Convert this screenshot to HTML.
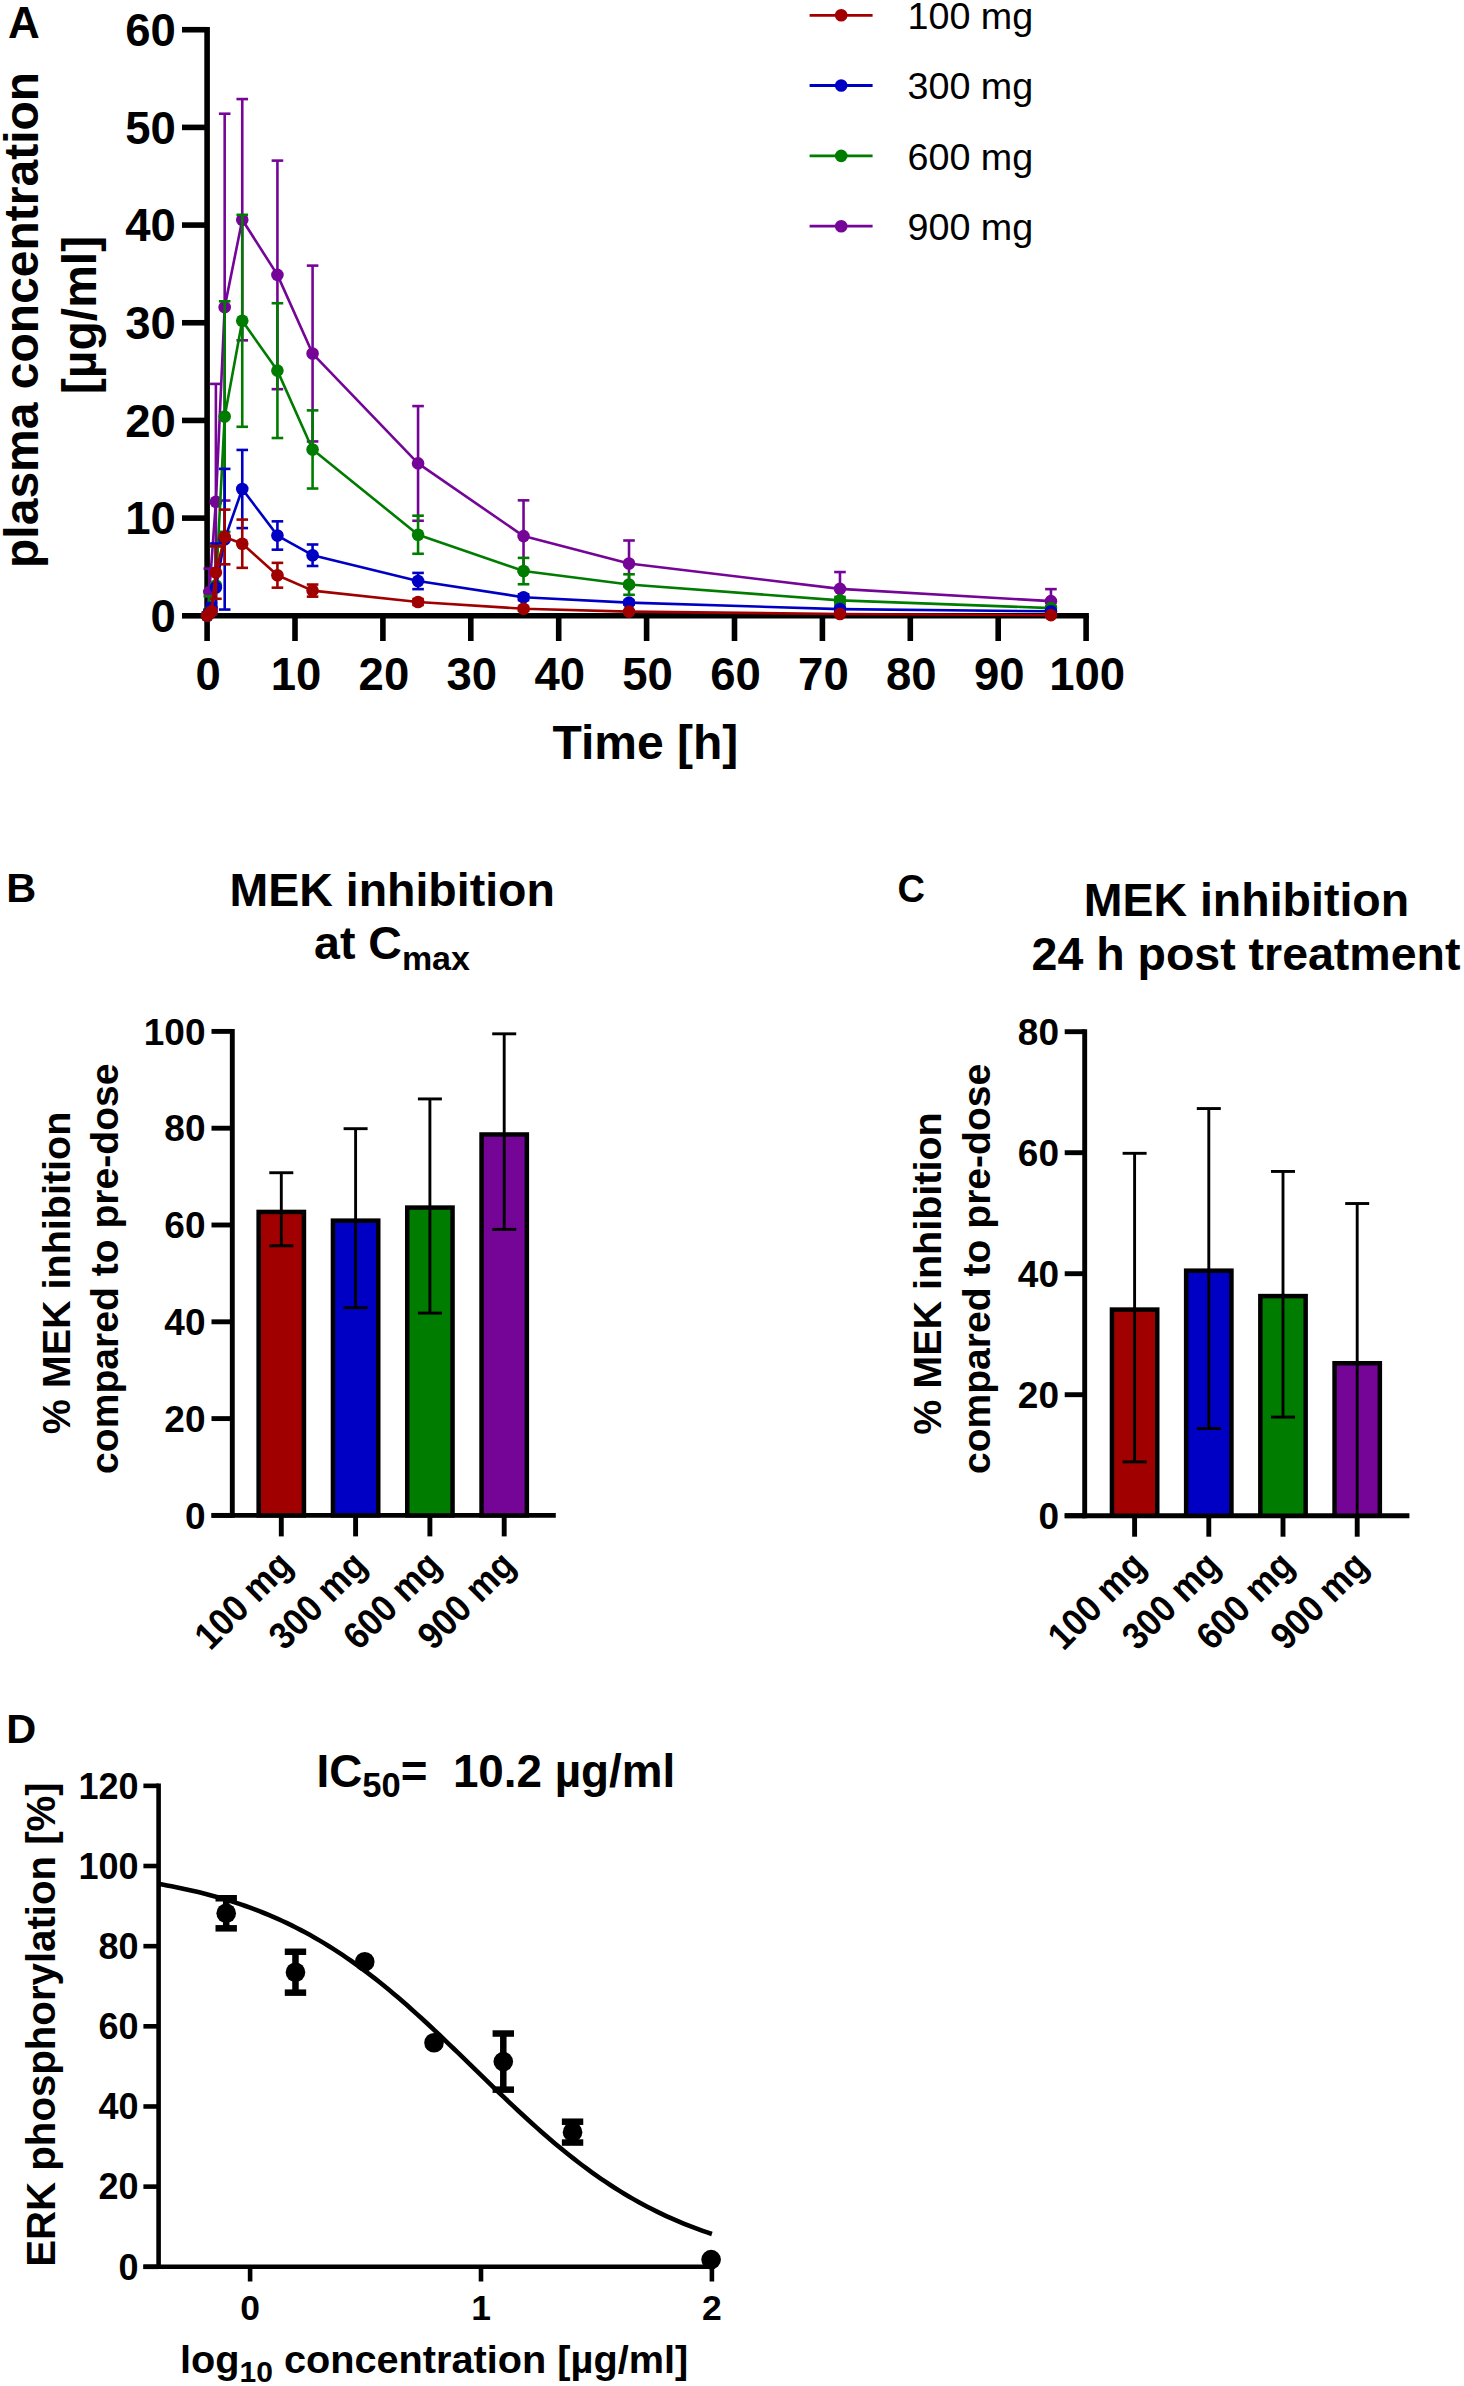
<!DOCTYPE html>
<html><head><meta charset="utf-8"><style>
html,body{margin:0;padding:0;background:#fff;}
svg{display:block;}
text{font-family:"Liberation Sans",sans-serif;fill:#000;white-space:pre;}
</style></head><body>
<svg width="1464" height="2386" viewBox="0 0 1464 2386">
<rect width="1464" height="2386" fill="#fff"/>
<path d="M207.1,26.92 V615.8 H1088.9" stroke="#000" stroke-width="5.6" fill="none" stroke-linejoin="miter"/>
<line x1="182" y1="615.8" x2="207.1" y2="615.8" stroke="#000" stroke-width="5.6" stroke-linecap="butt"/>
<line x1="182" y1="518.12" x2="207.1" y2="518.12" stroke="#000" stroke-width="5.6" stroke-linecap="butt"/>
<line x1="182" y1="420.44" x2="207.1" y2="420.44" stroke="#000" stroke-width="5.6" stroke-linecap="butt"/>
<line x1="182" y1="322.76" x2="207.1" y2="322.76" stroke="#000" stroke-width="5.6" stroke-linecap="butt"/>
<line x1="182" y1="225.08" x2="207.1" y2="225.08" stroke="#000" stroke-width="5.6" stroke-linecap="butt"/>
<line x1="182" y1="127.4" x2="207.1" y2="127.4" stroke="#000" stroke-width="5.6" stroke-linecap="butt"/>
<line x1="182" y1="29.72" x2="207.1" y2="29.72" stroke="#000" stroke-width="5.6" stroke-linecap="butt"/>
<line x1="207.1" y1="615.8" x2="207.1" y2="641" stroke="#000" stroke-width="5.6" stroke-linecap="butt"/>
<line x1="295" y1="615.8" x2="295" y2="641" stroke="#000" stroke-width="5.6" stroke-linecap="butt"/>
<line x1="382.9" y1="615.8" x2="382.9" y2="641" stroke="#000" stroke-width="5.6" stroke-linecap="butt"/>
<line x1="470.8" y1="615.8" x2="470.8" y2="641" stroke="#000" stroke-width="5.6" stroke-linecap="butt"/>
<line x1="558.7" y1="615.8" x2="558.7" y2="641" stroke="#000" stroke-width="5.6" stroke-linecap="butt"/>
<line x1="646.6" y1="615.8" x2="646.6" y2="641" stroke="#000" stroke-width="5.6" stroke-linecap="butt"/>
<line x1="734.5" y1="615.8" x2="734.5" y2="641" stroke="#000" stroke-width="5.6" stroke-linecap="butt"/>
<line x1="822.4" y1="615.8" x2="822.4" y2="641" stroke="#000" stroke-width="5.6" stroke-linecap="butt"/>
<line x1="910.3" y1="615.8" x2="910.3" y2="641" stroke="#000" stroke-width="5.6" stroke-linecap="butt"/>
<line x1="998.2" y1="615.8" x2="998.2" y2="641" stroke="#000" stroke-width="5.6" stroke-linecap="butt"/>
<line x1="1086.1" y1="615.8" x2="1086.1" y2="641" stroke="#000" stroke-width="5.6" stroke-linecap="butt"/>
<text x="175.8" y="631.91" font-size="45.5" font-weight="bold" text-anchor="end">0</text>
<text x="175.8" y="534.23" font-size="45.5" font-weight="bold" text-anchor="end">10</text>
<text x="175.8" y="436.55" font-size="45.5" font-weight="bold" text-anchor="end">20</text>
<text x="175.8" y="338.87" font-size="45.5" font-weight="bold" text-anchor="end">30</text>
<text x="175.8" y="241.19" font-size="45.5" font-weight="bold" text-anchor="end">40</text>
<text x="175.8" y="143.51" font-size="45.5" font-weight="bold" text-anchor="end">50</text>
<text x="175.8" y="45.83" font-size="45.5" font-weight="bold" text-anchor="end">60</text>
<text x="208.1" y="689.5" font-size="45.5" font-weight="bold" text-anchor="middle">0</text>
<text x="296" y="689.5" font-size="45.5" font-weight="bold" text-anchor="middle">10</text>
<text x="383.9" y="689.5" font-size="45.5" font-weight="bold" text-anchor="middle">20</text>
<text x="471.8" y="689.5" font-size="45.5" font-weight="bold" text-anchor="middle">30</text>
<text x="559.7" y="689.5" font-size="45.5" font-weight="bold" text-anchor="middle">40</text>
<text x="647.6" y="689.5" font-size="45.5" font-weight="bold" text-anchor="middle">50</text>
<text x="735.5" y="689.5" font-size="45.5" font-weight="bold" text-anchor="middle">60</text>
<text x="823.4" y="689.5" font-size="45.5" font-weight="bold" text-anchor="middle">70</text>
<text x="911.3" y="689.5" font-size="45.5" font-weight="bold" text-anchor="middle">80</text>
<text x="999.2" y="689.5" font-size="45.5" font-weight="bold" text-anchor="middle">90</text>
<text x="1087.1" y="689.5" font-size="45.5" font-weight="bold" text-anchor="middle">100</text>
<text x="645.4" y="758.7" font-size="48" font-weight="bold" text-anchor="middle">Time [h]</text>
<text transform="translate(37.7,319.9) rotate(-90)" font-size="48" font-weight="bold" text-anchor="middle">plasma concentration</text>
<text transform="translate(96,315) rotate(-90)" font-size="48" font-weight="bold" text-anchor="middle">[µg/ml]</text>
<text x="8" y="38" font-size="44" font-weight="bold" text-anchor="start">A</text>
<line x1="209.3" y1="615.51" x2="209.3" y2="568.62" stroke="#750597" stroke-width="2.6" stroke-linecap="butt"/>
<line x1="203.5" y1="568.62" x2="215.1" y2="568.62" stroke="#750597" stroke-width="2.6" stroke-linecap="butt"/>
<line x1="203.5" y1="615.51" x2="215.1" y2="615.51" stroke="#750597" stroke-width="2.6" stroke-linecap="butt"/>
<line x1="215.89" y1="615.8" x2="215.89" y2="383.91" stroke="#750597" stroke-width="2.6" stroke-linecap="butt"/>
<line x1="210.09" y1="383.91" x2="221.69" y2="383.91" stroke="#750597" stroke-width="2.6" stroke-linecap="butt"/>
<line x1="224.68" y1="500.54" x2="224.68" y2="113.72" stroke="#750597" stroke-width="2.6" stroke-linecap="butt"/>
<line x1="218.88" y1="113.72" x2="230.48" y2="113.72" stroke="#750597" stroke-width="2.6" stroke-linecap="butt"/>
<line x1="218.88" y1="500.54" x2="230.48" y2="500.54" stroke="#750597" stroke-width="2.6" stroke-linecap="butt"/>
<line x1="242.26" y1="340.34" x2="242.26" y2="99.07" stroke="#750597" stroke-width="2.6" stroke-linecap="butt"/>
<line x1="236.46" y1="99.07" x2="248.06" y2="99.07" stroke="#750597" stroke-width="2.6" stroke-linecap="butt"/>
<line x1="236.46" y1="340.34" x2="248.06" y2="340.34" stroke="#750597" stroke-width="2.6" stroke-linecap="butt"/>
<line x1="277.42" y1="389.18" x2="277.42" y2="160.61" stroke="#750597" stroke-width="2.6" stroke-linecap="butt"/>
<line x1="271.62" y1="160.61" x2="283.22" y2="160.61" stroke="#750597" stroke-width="2.6" stroke-linecap="butt"/>
<line x1="271.62" y1="389.18" x2="283.22" y2="389.18" stroke="#750597" stroke-width="2.6" stroke-linecap="butt"/>
<line x1="312.58" y1="441.44" x2="312.58" y2="265.62" stroke="#750597" stroke-width="2.6" stroke-linecap="butt"/>
<line x1="306.78" y1="265.62" x2="318.38" y2="265.62" stroke="#750597" stroke-width="2.6" stroke-linecap="butt"/>
<line x1="306.78" y1="441.44" x2="318.38" y2="441.44" stroke="#750597" stroke-width="2.6" stroke-linecap="butt"/>
<line x1="418.06" y1="520.76" x2="418.06" y2="406.08" stroke="#750597" stroke-width="2.6" stroke-linecap="butt"/>
<line x1="412.26" y1="406.08" x2="423.86" y2="406.08" stroke="#750597" stroke-width="2.6" stroke-linecap="butt"/>
<line x1="412.26" y1="520.76" x2="423.86" y2="520.76" stroke="#750597" stroke-width="2.6" stroke-linecap="butt"/>
<line x1="523.54" y1="571.84" x2="523.54" y2="500.34" stroke="#750597" stroke-width="2.6" stroke-linecap="butt"/>
<line x1="517.74" y1="500.34" x2="529.34" y2="500.34" stroke="#750597" stroke-width="2.6" stroke-linecap="butt"/>
<line x1="517.74" y1="571.84" x2="529.34" y2="571.84" stroke="#750597" stroke-width="2.6" stroke-linecap="butt"/>
<line x1="629.02" y1="586.4" x2="629.02" y2="540.49" stroke="#750597" stroke-width="2.6" stroke-linecap="butt"/>
<line x1="623.22" y1="540.49" x2="634.82" y2="540.49" stroke="#750597" stroke-width="2.6" stroke-linecap="butt"/>
<line x1="623.22" y1="586.4" x2="634.82" y2="586.4" stroke="#750597" stroke-width="2.6" stroke-linecap="butt"/>
<line x1="839.98" y1="605.64" x2="839.98" y2="572.04" stroke="#750597" stroke-width="2.6" stroke-linecap="butt"/>
<line x1="834.18" y1="572.04" x2="845.78" y2="572.04" stroke="#750597" stroke-width="2.6" stroke-linecap="butt"/>
<line x1="834.18" y1="605.64" x2="845.78" y2="605.64" stroke="#750597" stroke-width="2.6" stroke-linecap="butt"/>
<line x1="1050.94" y1="613.16" x2="1050.94" y2="589.13" stroke="#750597" stroke-width="2.6" stroke-linecap="butt"/>
<line x1="1045.14" y1="589.13" x2="1056.74" y2="589.13" stroke="#750597" stroke-width="2.6" stroke-linecap="butt"/>
<line x1="1045.14" y1="613.16" x2="1056.74" y2="613.16" stroke="#750597" stroke-width="2.6" stroke-linecap="butt"/>
<polyline points="207.1,615.8 209.3,592.06 215.89,501.71 224.68,307.13 242.26,219.71 277.42,274.9 312.58,353.53 418.06,463.42 523.54,536.09 629.02,563.44 839.98,588.84 1050.94,601.15" fill="none" stroke="#750597" stroke-width="2.6" stroke-linejoin="round"/>
<circle cx="207.1" cy="615.8" r="6.3" fill="#750597"/>
<circle cx="209.3" cy="592.06" r="6.3" fill="#750597"/>
<circle cx="215.89" cy="501.71" r="6.3" fill="#750597"/>
<circle cx="224.68" cy="307.13" r="6.3" fill="#750597"/>
<circle cx="242.26" cy="219.71" r="6.3" fill="#750597"/>
<circle cx="277.42" cy="274.9" r="6.3" fill="#750597"/>
<circle cx="312.58" cy="353.53" r="6.3" fill="#750597"/>
<circle cx="418.06" cy="463.42" r="6.3" fill="#750597"/>
<circle cx="523.54" cy="536.09" r="6.3" fill="#750597"/>
<circle cx="629.02" cy="563.44" r="6.3" fill="#750597"/>
<circle cx="839.98" cy="588.84" r="6.3" fill="#750597"/>
<circle cx="1050.94" cy="601.15" r="6.3" fill="#750597"/>
<line x1="209.3" y1="615.8" x2="209.3" y2="596.26" stroke="#007c00" stroke-width="2.6" stroke-linecap="butt"/>
<line x1="203.5" y1="596.26" x2="215.1" y2="596.26" stroke="#007c00" stroke-width="2.6" stroke-linecap="butt"/>
<line x1="215.89" y1="615.8" x2="215.89" y2="546.45" stroke="#007c00" stroke-width="2.6" stroke-linecap="butt"/>
<line x1="210.09" y1="546.45" x2="221.69" y2="546.45" stroke="#007c00" stroke-width="2.6" stroke-linecap="butt"/>
<line x1="224.68" y1="531.8" x2="224.68" y2="301.27" stroke="#007c00" stroke-width="2.6" stroke-linecap="butt"/>
<line x1="218.88" y1="301.27" x2="230.48" y2="301.27" stroke="#007c00" stroke-width="2.6" stroke-linecap="butt"/>
<line x1="218.88" y1="531.8" x2="230.48" y2="531.8" stroke="#007c00" stroke-width="2.6" stroke-linecap="butt"/>
<line x1="242.26" y1="426.79" x2="242.26" y2="214.82" stroke="#007c00" stroke-width="2.6" stroke-linecap="butt"/>
<line x1="236.46" y1="214.82" x2="248.06" y2="214.82" stroke="#007c00" stroke-width="2.6" stroke-linecap="butt"/>
<line x1="236.46" y1="426.79" x2="248.06" y2="426.79" stroke="#007c00" stroke-width="2.6" stroke-linecap="butt"/>
<line x1="277.42" y1="438.02" x2="277.42" y2="303.22" stroke="#007c00" stroke-width="2.6" stroke-linecap="butt"/>
<line x1="271.62" y1="303.22" x2="283.22" y2="303.22" stroke="#007c00" stroke-width="2.6" stroke-linecap="butt"/>
<line x1="271.62" y1="438.02" x2="283.22" y2="438.02" stroke="#007c00" stroke-width="2.6" stroke-linecap="butt"/>
<line x1="312.58" y1="488.52" x2="312.58" y2="410.38" stroke="#007c00" stroke-width="2.6" stroke-linecap="butt"/>
<line x1="306.78" y1="410.38" x2="318.38" y2="410.38" stroke="#007c00" stroke-width="2.6" stroke-linecap="butt"/>
<line x1="306.78" y1="488.52" x2="318.38" y2="488.52" stroke="#007c00" stroke-width="2.6" stroke-linecap="butt"/>
<line x1="418.06" y1="553.77" x2="418.06" y2="515.68" stroke="#007c00" stroke-width="2.6" stroke-linecap="butt"/>
<line x1="412.26" y1="515.68" x2="423.86" y2="515.68" stroke="#007c00" stroke-width="2.6" stroke-linecap="butt"/>
<line x1="412.26" y1="553.77" x2="423.86" y2="553.77" stroke="#007c00" stroke-width="2.6" stroke-linecap="butt"/>
<line x1="523.54" y1="584.25" x2="523.54" y2="557.88" stroke="#007c00" stroke-width="2.6" stroke-linecap="butt"/>
<line x1="517.74" y1="557.88" x2="529.34" y2="557.88" stroke="#007c00" stroke-width="2.6" stroke-linecap="butt"/>
<line x1="517.74" y1="584.25" x2="529.34" y2="584.25" stroke="#007c00" stroke-width="2.6" stroke-linecap="butt"/>
<line x1="629.02" y1="594.8" x2="629.02" y2="574.29" stroke="#007c00" stroke-width="2.6" stroke-linecap="butt"/>
<line x1="623.22" y1="574.29" x2="634.82" y2="574.29" stroke="#007c00" stroke-width="2.6" stroke-linecap="butt"/>
<line x1="623.22" y1="594.8" x2="634.82" y2="594.8" stroke="#007c00" stroke-width="2.6" stroke-linecap="butt"/>
<line x1="839.98" y1="603.79" x2="839.98" y2="596.95" stroke="#007c00" stroke-width="2.6" stroke-linecap="butt"/>
<line x1="834.18" y1="596.95" x2="845.78" y2="596.95" stroke="#007c00" stroke-width="2.6" stroke-linecap="butt"/>
<line x1="834.18" y1="603.79" x2="845.78" y2="603.79" stroke="#007c00" stroke-width="2.6" stroke-linecap="butt"/>
<line x1="1050.94" y1="610.04" x2="1050.94" y2="606.13" stroke="#007c00" stroke-width="2.6" stroke-linecap="butt"/>
<line x1="1045.14" y1="606.13" x2="1056.74" y2="606.13" stroke="#007c00" stroke-width="2.6" stroke-linecap="butt"/>
<line x1="1045.14" y1="610.04" x2="1056.74" y2="610.04" stroke="#007c00" stroke-width="2.6" stroke-linecap="butt"/>
<polyline points="207.1,615.8 209.3,610.92 215.89,585.52 224.68,416.53 242.26,320.81 277.42,370.62 312.58,449.45 418.06,534.73 523.54,571.06 629.02,584.54 839.98,600.37 1050.94,608.08" fill="none" stroke="#007c00" stroke-width="2.6" stroke-linejoin="round"/>
<circle cx="207.1" cy="615.8" r="6.3" fill="#007c00"/>
<circle cx="209.3" cy="610.92" r="6.3" fill="#007c00"/>
<circle cx="215.89" cy="585.52" r="6.3" fill="#007c00"/>
<circle cx="224.68" cy="416.53" r="6.3" fill="#007c00"/>
<circle cx="242.26" cy="320.81" r="6.3" fill="#007c00"/>
<circle cx="277.42" cy="370.62" r="6.3" fill="#007c00"/>
<circle cx="312.58" cy="449.45" r="6.3" fill="#007c00"/>
<circle cx="418.06" cy="534.73" r="6.3" fill="#007c00"/>
<circle cx="523.54" cy="571.06" r="6.3" fill="#007c00"/>
<circle cx="629.02" cy="584.54" r="6.3" fill="#007c00"/>
<circle cx="839.98" cy="600.37" r="6.3" fill="#007c00"/>
<circle cx="1050.94" cy="608.08" r="6.3" fill="#007c00"/>
<line x1="209.3" y1="615.8" x2="209.3" y2="609.94" stroke="#0000c4" stroke-width="2.6" stroke-linecap="butt"/>
<line x1="203.5" y1="609.94" x2="215.1" y2="609.94" stroke="#0000c4" stroke-width="2.6" stroke-linecap="butt"/>
<line x1="211.5" y1="612.87" x2="211.5" y2="603.1" stroke="#0000c4" stroke-width="2.6" stroke-linecap="butt"/>
<line x1="205.69" y1="603.1" x2="217.3" y2="603.1" stroke="#0000c4" stroke-width="2.6" stroke-linecap="butt"/>
<line x1="205.69" y1="612.87" x2="217.3" y2="612.87" stroke="#0000c4" stroke-width="2.6" stroke-linecap="butt"/>
<line x1="215.89" y1="615.8" x2="215.89" y2="543.52" stroke="#0000c4" stroke-width="2.6" stroke-linecap="butt"/>
<line x1="210.09" y1="543.52" x2="221.69" y2="543.52" stroke="#0000c4" stroke-width="2.6" stroke-linecap="butt"/>
<line x1="224.68" y1="609.55" x2="224.68" y2="468.89" stroke="#0000c4" stroke-width="2.6" stroke-linecap="butt"/>
<line x1="218.88" y1="468.89" x2="230.48" y2="468.89" stroke="#0000c4" stroke-width="2.6" stroke-linecap="butt"/>
<line x1="218.88" y1="609.55" x2="230.48" y2="609.55" stroke="#0000c4" stroke-width="2.6" stroke-linecap="butt"/>
<line x1="242.26" y1="528.08" x2="242.26" y2="449.94" stroke="#0000c4" stroke-width="2.6" stroke-linecap="butt"/>
<line x1="236.46" y1="449.94" x2="248.06" y2="449.94" stroke="#0000c4" stroke-width="2.6" stroke-linecap="butt"/>
<line x1="236.46" y1="528.08" x2="248.06" y2="528.08" stroke="#0000c4" stroke-width="2.6" stroke-linecap="butt"/>
<line x1="277.42" y1="549.67" x2="277.42" y2="521.34" stroke="#0000c4" stroke-width="2.6" stroke-linecap="butt"/>
<line x1="271.62" y1="521.34" x2="283.22" y2="521.34" stroke="#0000c4" stroke-width="2.6" stroke-linecap="butt"/>
<line x1="271.62" y1="549.67" x2="283.22" y2="549.67" stroke="#0000c4" stroke-width="2.6" stroke-linecap="butt"/>
<line x1="312.58" y1="565.98" x2="312.58" y2="544.49" stroke="#0000c4" stroke-width="2.6" stroke-linecap="butt"/>
<line x1="306.78" y1="544.49" x2="318.38" y2="544.49" stroke="#0000c4" stroke-width="2.6" stroke-linecap="butt"/>
<line x1="306.78" y1="565.98" x2="318.38" y2="565.98" stroke="#0000c4" stroke-width="2.6" stroke-linecap="butt"/>
<line x1="418.06" y1="589.13" x2="418.06" y2="572.92" stroke="#0000c4" stroke-width="2.6" stroke-linecap="butt"/>
<line x1="412.26" y1="572.92" x2="423.86" y2="572.92" stroke="#0000c4" stroke-width="2.6" stroke-linecap="butt"/>
<line x1="412.26" y1="589.13" x2="423.86" y2="589.13" stroke="#0000c4" stroke-width="2.6" stroke-linecap="butt"/>
<line x1="523.54" y1="600.17" x2="523.54" y2="594.31" stroke="#0000c4" stroke-width="2.6" stroke-linecap="butt"/>
<line x1="517.74" y1="594.31" x2="529.34" y2="594.31" stroke="#0000c4" stroke-width="2.6" stroke-linecap="butt"/>
<line x1="517.74" y1="600.17" x2="529.34" y2="600.17" stroke="#0000c4" stroke-width="2.6" stroke-linecap="butt"/>
<line x1="629.02" y1="604.57" x2="629.02" y2="600.66" stroke="#0000c4" stroke-width="2.6" stroke-linecap="butt"/>
<line x1="623.22" y1="600.66" x2="634.82" y2="600.66" stroke="#0000c4" stroke-width="2.6" stroke-linecap="butt"/>
<line x1="623.22" y1="604.57" x2="634.82" y2="604.57" stroke="#0000c4" stroke-width="2.6" stroke-linecap="butt"/>
<line x1="839.98" y1="610.62" x2="839.98" y2="607.69" stroke="#0000c4" stroke-width="2.6" stroke-linecap="butt"/>
<line x1="834.18" y1="607.69" x2="845.78" y2="607.69" stroke="#0000c4" stroke-width="2.6" stroke-linecap="butt"/>
<line x1="834.18" y1="610.62" x2="845.78" y2="610.62" stroke="#0000c4" stroke-width="2.6" stroke-linecap="butt"/>
<line x1="1050.94" y1="612.28" x2="1050.94" y2="610.33" stroke="#0000c4" stroke-width="2.6" stroke-linecap="butt"/>
<line x1="1045.14" y1="610.33" x2="1056.74" y2="610.33" stroke="#0000c4" stroke-width="2.6" stroke-linecap="butt"/>
<line x1="1045.14" y1="612.28" x2="1056.74" y2="612.28" stroke="#0000c4" stroke-width="2.6" stroke-linecap="butt"/>
<polyline points="207.1,615.8 209.3,612.87 211.5,607.99 215.89,587.47 224.68,539.22 242.26,489.01 277.42,535.51 312.58,555.24 418.06,581.03 523.54,597.24 629.02,602.61 839.98,609.16 1050.94,611.31" fill="none" stroke="#0000c4" stroke-width="2.6" stroke-linejoin="round"/>
<circle cx="207.1" cy="615.8" r="6.3" fill="#0000c4"/>
<circle cx="209.3" cy="612.87" r="6.3" fill="#0000c4"/>
<circle cx="211.5" cy="607.99" r="6.3" fill="#0000c4"/>
<circle cx="215.89" cy="587.47" r="6.3" fill="#0000c4"/>
<circle cx="224.68" cy="539.22" r="6.3" fill="#0000c4"/>
<circle cx="242.26" cy="489.01" r="6.3" fill="#0000c4"/>
<circle cx="277.42" cy="535.51" r="6.3" fill="#0000c4"/>
<circle cx="312.58" cy="555.24" r="6.3" fill="#0000c4"/>
<circle cx="418.06" cy="581.03" r="6.3" fill="#0000c4"/>
<circle cx="523.54" cy="597.24" r="6.3" fill="#0000c4"/>
<circle cx="629.02" cy="602.61" r="6.3" fill="#0000c4"/>
<circle cx="839.98" cy="609.16" r="6.3" fill="#0000c4"/>
<circle cx="1050.94" cy="611.31" r="6.3" fill="#0000c4"/>
<line x1="215.89" y1="598.8" x2="215.89" y2="546.06" stroke="#a00000" stroke-width="2.6" stroke-linecap="butt"/>
<line x1="210.09" y1="546.06" x2="221.69" y2="546.06" stroke="#a00000" stroke-width="2.6" stroke-linecap="butt"/>
<line x1="210.09" y1="598.8" x2="221.69" y2="598.8" stroke="#a00000" stroke-width="2.6" stroke-linecap="butt"/>
<line x1="224.68" y1="564.32" x2="224.68" y2="509.62" stroke="#a00000" stroke-width="2.6" stroke-linecap="butt"/>
<line x1="218.88" y1="509.62" x2="230.48" y2="509.62" stroke="#a00000" stroke-width="2.6" stroke-linecap="butt"/>
<line x1="218.88" y1="564.32" x2="230.48" y2="564.32" stroke="#a00000" stroke-width="2.6" stroke-linecap="butt"/>
<line x1="242.26" y1="567.84" x2="242.26" y2="519.59" stroke="#a00000" stroke-width="2.6" stroke-linecap="butt"/>
<line x1="236.46" y1="519.59" x2="248.06" y2="519.59" stroke="#a00000" stroke-width="2.6" stroke-linecap="butt"/>
<line x1="236.46" y1="567.84" x2="248.06" y2="567.84" stroke="#a00000" stroke-width="2.6" stroke-linecap="butt"/>
<line x1="277.42" y1="587.67" x2="277.42" y2="562.86" stroke="#a00000" stroke-width="2.6" stroke-linecap="butt"/>
<line x1="271.62" y1="562.86" x2="283.22" y2="562.86" stroke="#a00000" stroke-width="2.6" stroke-linecap="butt"/>
<line x1="271.62" y1="587.67" x2="283.22" y2="587.67" stroke="#a00000" stroke-width="2.6" stroke-linecap="butt"/>
<line x1="312.58" y1="596.65" x2="312.58" y2="584.54" stroke="#a00000" stroke-width="2.6" stroke-linecap="butt"/>
<line x1="306.78" y1="584.54" x2="318.38" y2="584.54" stroke="#a00000" stroke-width="2.6" stroke-linecap="butt"/>
<line x1="306.78" y1="596.65" x2="318.38" y2="596.65" stroke="#a00000" stroke-width="2.6" stroke-linecap="butt"/>
<line x1="418.06" y1="604.96" x2="418.06" y2="599.1" stroke="#a00000" stroke-width="2.6" stroke-linecap="butt"/>
<line x1="412.26" y1="599.1" x2="423.86" y2="599.1" stroke="#a00000" stroke-width="2.6" stroke-linecap="butt"/>
<line x1="412.26" y1="604.96" x2="423.86" y2="604.96" stroke="#a00000" stroke-width="2.6" stroke-linecap="butt"/>
<line x1="523.54" y1="610.72" x2="523.54" y2="606.81" stroke="#a00000" stroke-width="2.6" stroke-linecap="butt"/>
<line x1="517.74" y1="606.81" x2="529.34" y2="606.81" stroke="#a00000" stroke-width="2.6" stroke-linecap="butt"/>
<line x1="517.74" y1="610.72" x2="529.34" y2="610.72" stroke="#a00000" stroke-width="2.6" stroke-linecap="butt"/>
<line x1="629.02" y1="612.58" x2="629.02" y2="610.62" stroke="#a00000" stroke-width="2.6" stroke-linecap="butt"/>
<line x1="623.22" y1="610.62" x2="634.82" y2="610.62" stroke="#a00000" stroke-width="2.6" stroke-linecap="butt"/>
<line x1="623.22" y1="612.58" x2="634.82" y2="612.58" stroke="#a00000" stroke-width="2.6" stroke-linecap="butt"/>
<line x1="839.98" y1="614.53" x2="839.98" y2="613.55" stroke="#a00000" stroke-width="2.6" stroke-linecap="butt"/>
<line x1="834.18" y1="613.55" x2="845.78" y2="613.55" stroke="#a00000" stroke-width="2.6" stroke-linecap="butt"/>
<line x1="834.18" y1="614.53" x2="845.78" y2="614.53" stroke="#a00000" stroke-width="2.6" stroke-linecap="butt"/>
<line x1="1050.94" y1="615.41" x2="1050.94" y2="614.82" stroke="#a00000" stroke-width="2.6" stroke-linecap="butt"/>
<line x1="1045.14" y1="614.82" x2="1056.74" y2="614.82" stroke="#a00000" stroke-width="2.6" stroke-linecap="butt"/>
<line x1="1045.14" y1="615.41" x2="1056.74" y2="615.41" stroke="#a00000" stroke-width="2.6" stroke-linecap="butt"/>
<polyline points="207.1,615.8 209.3,613.85 211.5,611.21 215.89,572.43 224.68,536.97 242.26,543.71 277.42,575.26 312.58,590.6 418.06,602.03 523.54,608.77 629.02,611.6 839.98,614.04 1050.94,615.12" fill="none" stroke="#a00000" stroke-width="2.6" stroke-linejoin="round"/>
<circle cx="207.1" cy="615.8" r="6.3" fill="#a00000"/>
<circle cx="209.3" cy="613.85" r="6.3" fill="#a00000"/>
<circle cx="211.5" cy="611.21" r="6.3" fill="#a00000"/>
<circle cx="215.89" cy="572.43" r="6.3" fill="#a00000"/>
<circle cx="224.68" cy="536.97" r="6.3" fill="#a00000"/>
<circle cx="242.26" cy="543.71" r="6.3" fill="#a00000"/>
<circle cx="277.42" cy="575.26" r="6.3" fill="#a00000"/>
<circle cx="312.58" cy="590.6" r="6.3" fill="#a00000"/>
<circle cx="418.06" cy="602.03" r="6.3" fill="#a00000"/>
<circle cx="523.54" cy="608.77" r="6.3" fill="#a00000"/>
<circle cx="629.02" cy="611.6" r="6.3" fill="#a00000"/>
<circle cx="839.98" cy="614.04" r="6.3" fill="#a00000"/>
<circle cx="1050.94" cy="615.12" r="6.3" fill="#a00000"/>
<line x1="809.6" y1="15.3" x2="872.6" y2="15.3" stroke="#a00000" stroke-width="2.8" stroke-linecap="butt"/>
<circle cx="841.2" cy="15.3" r="6.3" fill="#a00000"/>
<text x="907.5" y="29.2" font-size="37.7" font-weight="normal" text-anchor="start">100 mg</text>
<line x1="809.6" y1="85.5" x2="872.6" y2="85.5" stroke="#0000c4" stroke-width="2.8" stroke-linecap="butt"/>
<circle cx="841.2" cy="85.5" r="6.3" fill="#0000c4"/>
<text x="907.5" y="99.4" font-size="37.7" font-weight="normal" text-anchor="start">300 mg</text>
<line x1="809.6" y1="155.9" x2="872.6" y2="155.9" stroke="#007c00" stroke-width="2.8" stroke-linecap="butt"/>
<circle cx="841.2" cy="155.9" r="6.3" fill="#007c00"/>
<text x="907.5" y="169.8" font-size="37.7" font-weight="normal" text-anchor="start">600 mg</text>
<line x1="809.6" y1="226.2" x2="872.6" y2="226.2" stroke="#750597" stroke-width="2.8" stroke-linecap="butt"/>
<circle cx="841.2" cy="226.2" r="6.3" fill="#750597"/>
<text x="907.5" y="240.1" font-size="37.7" font-weight="normal" text-anchor="start">900 mg</text>
<path d="M232.3,1028.95 V1517.85" stroke="#000" stroke-width="4.9" fill="none"/>
<line x1="211.5" y1="1515.4" x2="555.8" y2="1515.4" stroke="#000" stroke-width="4.9" stroke-linecap="butt"/>
<line x1="211.5" y1="1515.4" x2="232.3" y2="1515.4" stroke="#000" stroke-width="4.9" stroke-linecap="butt"/>
<text x="205.5" y="1528.5" font-size="37" font-weight="bold" text-anchor="end">0</text>
<line x1="211.5" y1="1418.6" x2="232.3" y2="1418.6" stroke="#000" stroke-width="4.9" stroke-linecap="butt"/>
<text x="205.5" y="1431.7" font-size="37" font-weight="bold" text-anchor="end">20</text>
<line x1="211.5" y1="1321.8" x2="232.3" y2="1321.8" stroke="#000" stroke-width="4.9" stroke-linecap="butt"/>
<text x="205.5" y="1334.9" font-size="37" font-weight="bold" text-anchor="end">40</text>
<line x1="211.5" y1="1225" x2="232.3" y2="1225" stroke="#000" stroke-width="4.9" stroke-linecap="butt"/>
<text x="205.5" y="1238.1" font-size="37" font-weight="bold" text-anchor="end">60</text>
<line x1="211.5" y1="1128.2" x2="232.3" y2="1128.2" stroke="#000" stroke-width="4.9" stroke-linecap="butt"/>
<text x="205.5" y="1141.3" font-size="37" font-weight="bold" text-anchor="end">80</text>
<line x1="211.5" y1="1031.4" x2="232.3" y2="1031.4" stroke="#000" stroke-width="4.9" stroke-linecap="butt"/>
<text x="205.5" y="1044.5" font-size="37" font-weight="bold" text-anchor="end">100</text>
<line x1="281.3" y1="1515.4" x2="281.3" y2="1536.4" stroke="#000" stroke-width="4.9" stroke-linecap="butt"/>
<line x1="355.6" y1="1515.4" x2="355.6" y2="1536.4" stroke="#000" stroke-width="4.9" stroke-linecap="butt"/>
<line x1="429.9" y1="1515.4" x2="429.9" y2="1536.4" stroke="#000" stroke-width="4.9" stroke-linecap="butt"/>
<line x1="504.2" y1="1515.4" x2="504.2" y2="1536.4" stroke="#000" stroke-width="4.9" stroke-linecap="butt"/>
<rect x="258.65" y="1211.93" width="45.3" height="303.47" fill="#a00000" stroke="#000" stroke-width="4.5"/>
<line x1="281.3" y1="1172.73" x2="281.3" y2="1245.81" stroke="#000" stroke-width="2.9" stroke-linecap="butt"/>
<line x1="269.3" y1="1172.73" x2="293.3" y2="1172.73" stroke="#000" stroke-width="2.9" stroke-linecap="butt"/>
<line x1="269.3" y1="1245.81" x2="293.3" y2="1245.81" stroke="#000" stroke-width="2.9" stroke-linecap="butt"/>
<rect x="332.95" y="1220.64" width="45.3" height="294.76" fill="#0000c4" stroke="#000" stroke-width="4.5"/>
<line x1="355.6" y1="1128.68" x2="355.6" y2="1307.76" stroke="#000" stroke-width="2.9" stroke-linecap="butt"/>
<line x1="343.6" y1="1128.68" x2="367.6" y2="1128.68" stroke="#000" stroke-width="2.9" stroke-linecap="butt"/>
<line x1="343.6" y1="1307.76" x2="367.6" y2="1307.76" stroke="#000" stroke-width="2.9" stroke-linecap="butt"/>
<rect x="407.25" y="1207.58" width="45.3" height="307.82" fill="#007c00" stroke="#000" stroke-width="4.5"/>
<line x1="429.9" y1="1098.92" x2="429.9" y2="1313.09" stroke="#000" stroke-width="2.9" stroke-linecap="butt"/>
<line x1="417.9" y1="1098.92" x2="441.9" y2="1098.92" stroke="#000" stroke-width="2.9" stroke-linecap="butt"/>
<line x1="417.9" y1="1313.09" x2="441.9" y2="1313.09" stroke="#000" stroke-width="2.9" stroke-linecap="butt"/>
<rect x="481.55" y="1134.49" width="45.3" height="380.91" fill="#750597" stroke="#000" stroke-width="4.5"/>
<line x1="504.2" y1="1033.82" x2="504.2" y2="1229.36" stroke="#000" stroke-width="2.9" stroke-linecap="butt"/>
<line x1="492.2" y1="1033.82" x2="516.2" y2="1033.82" stroke="#000" stroke-width="2.9" stroke-linecap="butt"/>
<line x1="492.2" y1="1229.36" x2="516.2" y2="1229.36" stroke="#000" stroke-width="2.9" stroke-linecap="butt"/>
<text transform="translate(294.3,1567.4) rotate(-45) scale(1,1.1)" font-size="34.5" font-weight="bold" text-anchor="end">100 mg</text>
<text transform="translate(368.6,1567.4) rotate(-45) scale(1,1.1)" font-size="34.5" font-weight="bold" text-anchor="end">300 mg</text>
<text transform="translate(442.9,1567.4) rotate(-45) scale(1,1.1)" font-size="34.5" font-weight="bold" text-anchor="end">600 mg</text>
<text transform="translate(517.2,1567.4) rotate(-45) scale(1,1.1)" font-size="34.5" font-weight="bold" text-anchor="end">900 mg</text>
<path d="M1084.7,1029.25 V1518.15" stroke="#000" stroke-width="4.9" fill="none"/>
<line x1="1064.7" y1="1515.7" x2="1409.4" y2="1515.7" stroke="#000" stroke-width="4.9" stroke-linecap="butt"/>
<line x1="1064.7" y1="1515.7" x2="1084.7" y2="1515.7" stroke="#000" stroke-width="4.9" stroke-linecap="butt"/>
<text x="1059" y="1528.8" font-size="37" font-weight="bold" text-anchor="end">0</text>
<line x1="1064.7" y1="1394.7" x2="1084.7" y2="1394.7" stroke="#000" stroke-width="4.9" stroke-linecap="butt"/>
<text x="1059" y="1407.8" font-size="37" font-weight="bold" text-anchor="end">20</text>
<line x1="1064.7" y1="1273.7" x2="1084.7" y2="1273.7" stroke="#000" stroke-width="4.9" stroke-linecap="butt"/>
<text x="1059" y="1286.8" font-size="37" font-weight="bold" text-anchor="end">40</text>
<line x1="1064.7" y1="1152.7" x2="1084.7" y2="1152.7" stroke="#000" stroke-width="4.9" stroke-linecap="butt"/>
<text x="1059" y="1165.8" font-size="37" font-weight="bold" text-anchor="end">60</text>
<line x1="1064.7" y1="1031.7" x2="1084.7" y2="1031.7" stroke="#000" stroke-width="4.9" stroke-linecap="butt"/>
<text x="1059" y="1044.8" font-size="37" font-weight="bold" text-anchor="end">80</text>
<line x1="1134.6" y1="1515.7" x2="1134.6" y2="1536.7" stroke="#000" stroke-width="4.9" stroke-linecap="butt"/>
<line x1="1208.8" y1="1515.7" x2="1208.8" y2="1536.7" stroke="#000" stroke-width="4.9" stroke-linecap="butt"/>
<line x1="1283" y1="1515.7" x2="1283" y2="1536.7" stroke="#000" stroke-width="4.9" stroke-linecap="butt"/>
<line x1="1357.2" y1="1515.7" x2="1357.2" y2="1536.7" stroke="#000" stroke-width="4.9" stroke-linecap="butt"/>
<rect x="1111.95" y="1309.58" width="45.3" height="206.12" fill="#a00000" stroke="#000" stroke-width="4.5"/>
<line x1="1134.6" y1="1153.31" x2="1134.6" y2="1461.86" stroke="#000" stroke-width="2.9" stroke-linecap="butt"/>
<line x1="1122.6" y1="1153.31" x2="1146.6" y2="1153.31" stroke="#000" stroke-width="2.9" stroke-linecap="butt"/>
<line x1="1122.6" y1="1461.86" x2="1146.6" y2="1461.86" stroke="#000" stroke-width="2.9" stroke-linecap="butt"/>
<rect x="1186.15" y="1270.67" width="45.3" height="245.03" fill="#0000c4" stroke="#000" stroke-width="4.5"/>
<line x1="1208.8" y1="1108.54" x2="1208.8" y2="1428.58" stroke="#000" stroke-width="2.9" stroke-linecap="butt"/>
<line x1="1196.8" y1="1108.54" x2="1220.8" y2="1108.54" stroke="#000" stroke-width="2.9" stroke-linecap="butt"/>
<line x1="1196.8" y1="1428.58" x2="1220.8" y2="1428.58" stroke="#000" stroke-width="2.9" stroke-linecap="butt"/>
<rect x="1260.35" y="1296.09" width="45.3" height="219.62" fill="#007c00" stroke="#000" stroke-width="4.5"/>
<line x1="1283" y1="1171.45" x2="1283" y2="1417.09" stroke="#000" stroke-width="2.9" stroke-linecap="butt"/>
<line x1="1271" y1="1171.45" x2="1295" y2="1171.45" stroke="#000" stroke-width="2.9" stroke-linecap="butt"/>
<line x1="1271" y1="1417.09" x2="1295" y2="1417.09" stroke="#000" stroke-width="2.9" stroke-linecap="butt"/>
<rect x="1334.55" y="1363.24" width="45.3" height="152.46" fill="#750597" stroke="#000" stroke-width="4.5"/>
<line x1="1357.2" y1="1203.52" x2="1357.2" y2="1515.7" stroke="#000" stroke-width="2.9" stroke-linecap="butt"/>
<line x1="1345.2" y1="1203.52" x2="1369.2" y2="1203.52" stroke="#000" stroke-width="2.9" stroke-linecap="butt"/>
<text transform="translate(1147.6,1567.7) rotate(-45) scale(1,1.1)" font-size="34.5" font-weight="bold" text-anchor="end">100 mg</text>
<text transform="translate(1221.8,1567.7) rotate(-45) scale(1,1.1)" font-size="34.5" font-weight="bold" text-anchor="end">300 mg</text>
<text transform="translate(1296,1567.7) rotate(-45) scale(1,1.1)" font-size="34.5" font-weight="bold" text-anchor="end">600 mg</text>
<text transform="translate(1370.2,1567.7) rotate(-45) scale(1,1.1)" font-size="34.5" font-weight="bold" text-anchor="end">900 mg</text>
<text x="392.2" y="906" font-size="46.5" font-weight="bold" text-anchor="middle">MEK inhibition</text>
<text x="392" y="958.9" font-size="46.5" font-weight="bold" text-anchor="middle">at C<tspan font-size="34" dy="10.7">max</tspan></text>
<text x="6.3" y="901.6" font-size="41.5" font-weight="bold" text-anchor="start">B</text>
<text transform="translate(70,1273) rotate(-90)" font-size="39.5" font-weight="bold" text-anchor="middle">% MEK inhibition</text>
<text transform="translate(118,1268.7) rotate(-90)" font-size="39.1" font-weight="bold" text-anchor="middle">compared to pre-dose</text>
<text x="1246.4" y="915.8" font-size="46.5" font-weight="bold" text-anchor="middle">MEK inhibition</text>
<text x="1246" y="969.7" font-size="46.5" font-weight="bold" text-anchor="middle">24 h post treatment</text>
<text x="897.5" y="901.9" font-size="38" font-weight="bold" text-anchor="start">C</text>
<text transform="translate(941.3,1273.6) rotate(-90)" font-size="39.5" font-weight="bold" text-anchor="middle">% MEK inhibition</text>
<text transform="translate(990.4,1268.9) rotate(-90)" font-size="39.1" font-weight="bold" text-anchor="middle">compared to pre-dose</text>
<path d="M158.6,1783.54 V2269.1" stroke="#000" stroke-width="4.6" fill="none"/>
<line x1="143.4" y1="2266.8" x2="714.2" y2="2266.8" stroke="#000" stroke-width="4.6" stroke-linecap="butt"/>
<line x1="143.4" y1="2266.8" x2="158.6" y2="2266.8" stroke="#000" stroke-width="4.6" stroke-linecap="butt"/>
<text x="138.5" y="2279.54" font-size="36" font-weight="bold" text-anchor="end">0</text>
<line x1="143.4" y1="2186.64" x2="158.6" y2="2186.64" stroke="#000" stroke-width="4.6" stroke-linecap="butt"/>
<text x="138.5" y="2199.38" font-size="36" font-weight="bold" text-anchor="end">20</text>
<line x1="143.4" y1="2106.48" x2="158.6" y2="2106.48" stroke="#000" stroke-width="4.6" stroke-linecap="butt"/>
<text x="138.5" y="2119.22" font-size="36" font-weight="bold" text-anchor="end">40</text>
<line x1="143.4" y1="2026.32" x2="158.6" y2="2026.32" stroke="#000" stroke-width="4.6" stroke-linecap="butt"/>
<text x="138.5" y="2039.06" font-size="36" font-weight="bold" text-anchor="end">60</text>
<line x1="143.4" y1="1946.16" x2="158.6" y2="1946.16" stroke="#000" stroke-width="4.6" stroke-linecap="butt"/>
<text x="138.5" y="1958.9" font-size="36" font-weight="bold" text-anchor="end">80</text>
<line x1="143.4" y1="1866" x2="158.6" y2="1866" stroke="#000" stroke-width="4.6" stroke-linecap="butt"/>
<text x="138.5" y="1878.74" font-size="36" font-weight="bold" text-anchor="end">100</text>
<line x1="143.4" y1="1785.84" x2="158.6" y2="1785.84" stroke="#000" stroke-width="4.6" stroke-linecap="butt"/>
<text x="138.5" y="1798.58" font-size="36" font-weight="bold" text-anchor="end">120</text>
<line x1="250.1" y1="2266.8" x2="250.1" y2="2281.5" stroke="#000" stroke-width="4.6" stroke-linecap="butt"/>
<text x="250.1" y="2320" font-size="35.5" font-weight="bold" text-anchor="middle">0</text>
<line x1="481" y1="2266.8" x2="481" y2="2281.5" stroke="#000" stroke-width="4.6" stroke-linecap="butt"/>
<text x="481" y="2320" font-size="35.5" font-weight="bold" text-anchor="middle">1</text>
<line x1="711.9" y1="2266.8" x2="711.9" y2="2281.5" stroke="#000" stroke-width="4.6" stroke-linecap="butt"/>
<text x="711.9" y="2320" font-size="35.5" font-weight="bold" text-anchor="middle">2</text>
<polyline points="157.74,1883.78 162.36,1884.58 166.98,1885.43 171.59,1886.3 176.21,1887.21 180.83,1888.16 185.45,1889.14 190.07,1890.17 194.68,1891.23 199.3,1892.34 203.92,1893.49 208.54,1894.68 213.16,1895.92 217.77,1897.21 222.39,1898.54 227.01,1899.93 231.63,1901.37 236.25,1902.86 240.86,1904.4 245.48,1906 250.1,1907.66 254.72,1909.38 259.34,1911.16 263.95,1913 268.57,1914.9 273.19,1916.87 277.81,1918.91 282.43,1921.01 287.04,1923.18 291.66,1925.42 296.28,1927.73 300.9,1930.11 305.52,1932.56 310.13,1935.09 314.75,1937.69 319.37,1940.37 323.99,1943.12 328.61,1945.95 333.22,1948.86 337.84,1951.84 342.46,1954.89 347.08,1958.03 351.7,1961.24 356.31,1964.53 360.93,1967.89 365.55,1971.32 370.17,1974.83 374.79,1978.41 379.4,1982.06 384.02,1985.78 388.64,1989.57 393.26,1993.42 397.88,1997.34 402.49,2001.32 407.11,2005.35 411.73,2009.44 416.35,2013.59 420.97,2017.78 425.58,2022.02 430.2,2026.31 434.82,2030.63 439.44,2034.99 444.06,2039.38 448.67,2043.8 453.29,2048.24 457.91,2052.7 462.53,2057.17 467.15,2061.66 471.76,2066.16 476.38,2070.65 481,2075.15 485.62,2079.63 490.24,2084.11 494.85,2088.57 499.47,2093.01 504.09,2097.43 508.71,2101.82 513.33,2106.18 517.94,2110.5 522.56,2114.78 527.18,2119.03 531.8,2123.22 536.42,2127.36 541.03,2131.46 545.65,2135.49 550.27,2139.47 554.89,2143.39 559.51,2147.24 564.12,2151.03 568.74,2154.75 573.36,2158.4 577.98,2161.98 582.6,2165.49 587.21,2168.92 591.83,2172.28 596.45,2175.57 601.07,2178.78 605.69,2181.91 610.3,2184.97 614.92,2187.95 619.54,2190.86 624.16,2193.69 628.78,2196.44 633.39,2199.12 638.01,2201.72 642.63,2204.25 647.25,2206.7 651.87,2209.08 656.48,2211.39 661.1,2213.63 665.72,2215.8 670.34,2217.9 674.96,2219.94 679.57,2221.9 684.19,2223.81 688.81,2225.65 693.43,2227.43 698.05,2229.14 702.66,2230.8 707.28,2232.41 711.9,2233.95" fill="none" stroke="#000" stroke-width="4.6"/>
<line x1="226.21" y1="1928.32" x2="226.21" y2="1898.26" stroke="#000" stroke-width="6.5" stroke-linecap="butt"/>
<line x1="215.51" y1="1898.26" x2="236.91" y2="1898.26" stroke="#000" stroke-width="6.5" stroke-linecap="butt"/>
<line x1="215.51" y1="1928.32" x2="236.91" y2="1928.32" stroke="#000" stroke-width="6.5" stroke-linecap="butt"/>
<circle cx="226.21" cy="1913.29" r="9.8" fill="#000"/>
<line x1="295.48" y1="1992.65" x2="295.48" y2="1951.77" stroke="#000" stroke-width="6.5" stroke-linecap="butt"/>
<line x1="284.78" y1="1951.77" x2="306.18" y2="1951.77" stroke="#000" stroke-width="6.5" stroke-linecap="butt"/>
<line x1="284.78" y1="1992.65" x2="306.18" y2="1992.65" stroke="#000" stroke-width="6.5" stroke-linecap="butt"/>
<circle cx="295.48" cy="1972.21" r="9.8" fill="#000"/>
<circle cx="364.75" cy="1961.79" r="9.8" fill="#000"/>
<circle cx="434.02" cy="2042.75" r="9.8" fill="#000"/>
<line x1="503.29" y1="2089.65" x2="503.29" y2="2033.53" stroke="#000" stroke-width="6.5" stroke-linecap="butt"/>
<line x1="492.59" y1="2033.53" x2="513.99" y2="2033.53" stroke="#000" stroke-width="6.5" stroke-linecap="butt"/>
<line x1="492.59" y1="2089.65" x2="513.99" y2="2089.65" stroke="#000" stroke-width="6.5" stroke-linecap="butt"/>
<circle cx="503.29" cy="2061.59" r="9.8" fill="#000"/>
<line x1="572.56" y1="2142.55" x2="572.56" y2="2121.71" stroke="#000" stroke-width="6.5" stroke-linecap="butt"/>
<line x1="561.86" y1="2121.71" x2="583.26" y2="2121.71" stroke="#000" stroke-width="6.5" stroke-linecap="butt"/>
<line x1="561.86" y1="2142.55" x2="583.26" y2="2142.55" stroke="#000" stroke-width="6.5" stroke-linecap="butt"/>
<circle cx="572.56" cy="2132.13" r="9.8" fill="#000"/>
<circle cx="711.1" cy="2259.59" r="9.8" fill="#000"/>
<text x="6.3" y="1742.6" font-size="41.5" font-weight="bold" text-anchor="start">D</text>
<text transform="translate(54.6,2024.5) rotate(-90)" font-size="40.2" font-weight="bold" text-anchor="middle">ERK phosphorylation [%]</text>
<text x="180" y="2373.3" font-size="39.7" font-weight="bold">log<tspan font-size="30" dy="8.5">10</tspan><tspan dy="-8.5"> concentration [µg/ml]</tspan></text>
<text x="316.5" y="1786.8" font-size="45.8" font-weight="bold">IC<tspan font-size="34.5" dy="10">50</tspan><tspan dy="-10">=  10.2 µg/ml</tspan></text>
</svg>
</body></html>
